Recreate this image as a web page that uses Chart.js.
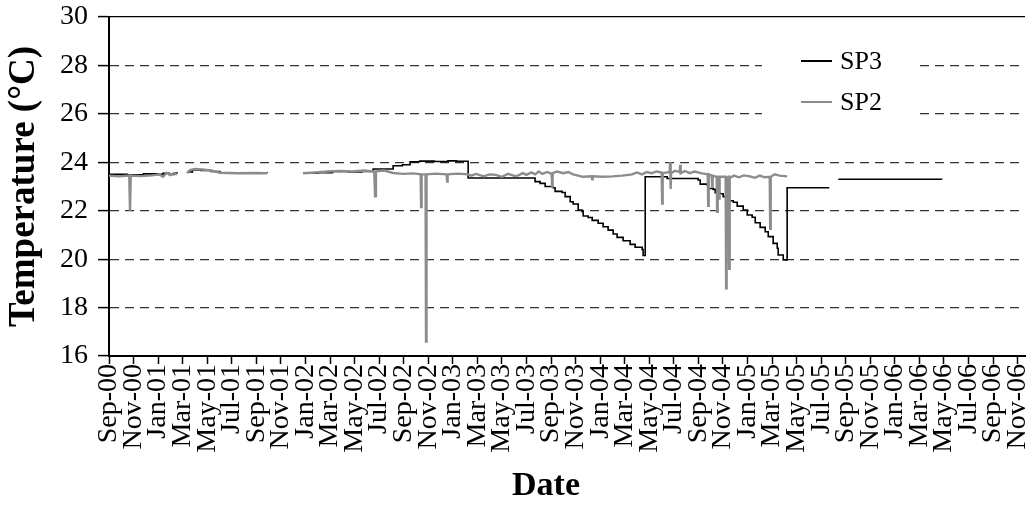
<!DOCTYPE html>
<html>
<head>
<meta charset="utf-8">
<script src="https://cdn.jsdelivr.net/npm/chart.js@4.4.0/dist/chart.umd.min.js"></script>
<style>
html, body { margin: 0; padding: 0; background: #fff; }
#wrap { width: 1030px; height: 513px; }
</style>
</head>
<body>
<div id="wrap"><canvas id="graficoTemperatura" width="1030" height="513"></canvas></div>
<script>
// meses contados a partir de Sep-00 (0 = Sep-00, 2 = Nov-00, ...)
var tickMonths = [0, 2, 4, 6, 8, 10, 12, 14, 16, 18, 20, 22, 24, 26, 28, 30, 32, 34, 36,
    38, 40, 42, 44, 46, 48, 50, 52, 54, 56, 58, 60, 62, 64, 66, 68, 70, 72, 74];
var tickLabels = ['Sep-00', 'Nov-00', 'Jan-01', 'Mar-01', 'May-01', 'Jul-01', 'Sep-01', 'Nov-01',
    'Jan-02', 'Mar-02', 'May-02', 'Jul-02', 'Sep-02', 'Nov-02', 'Jan-03', 'Mar-03', 'May-03',
    'Jul-03', 'Sep-03', 'Nov-03', 'Jan-04', 'Mar-04', 'May-04', 'Jul-04', 'Sep-04', 'Nov-04',
    'Jan-05', 'Mar-05', 'May-05', 'Jul-05', 'Sep-05', 'Nov-05', 'Jan-06', 'Mar-06', 'May-06',
    'Jul-06', 'Sep-06', 'Nov-06'];

// SP3 (linha preta, em degraus)
var sp3Months = [0, 1.5, 2.8, 3.9, 4.4, 4.9, 5.3, 5.54, 5.9,
    6.35, 6.8, 7.5, 8.3, 9.04, 11.0, 12.87, 14.3,
    15.8, 17.0, 18.2, 19.5, 20.6, 21.51, 23.14, 23.9, 24.52, 25.3, 26.5, 27.6, 28.3, 29.25,
    34.70, 35.11, 35.52, 36.17, 36.33, 36.90, 37.15, 37.56, 37.80, 38.21, 38.53, 38.62, 39.02,
    39.35, 39.84, 40.24, 40.65, 41.06, 41.38, 41.87, 42.44, 42.85, 43.42, 43.50, 43.67,
    45.46, 47.98, 48.15, 48.72, 48.80, 49.21, 49.37, 49.78, 50.02, 50.43, 50.84, 51.16, 51.65,
    51.98, 52.38, 52.63, 53.03, 53.44, 53.69, 54.09, 54.42, 54.50, 54.91, 55.23, 58.66, 59.0,
    59.39, 67.86];
var sp3Temps = [23.5, 23.48, 23.52, 23.5, 23.55, 23.5, 23.56, 23.52, null,
    23.6, 23.68, 23.66, 23.62, 23.55, 23.56, 23.55, null,
    23.55, 23.57, 23.62, 23.6, 23.62, 23.72, 23.86, 23.9, 24.02, 24.05, 24.03, 24.06, 24.04, 23.35,
    23.2, 23.13, 23.0, 22.95, 22.8, 22.75, 22.58, 22.37, 22.28, 22.03, 21.96, 21.78, 21.72,
    21.6, 21.48, 21.34, 21.2, 21.04, 20.9, 20.76, 20.61, 20.49, 20.4, 20.15, 23.4,
    23.33, 23.27, 23.1, 23.06, 22.92, 22.88, 22.74, 22.7, 22.58, 22.41, 22.35, 22.19, 22.03,
    21.82, 21.73, 21.5, 21.31, 21.13, 20.93, 20.65, 20.45, 20.17, 19.97, 22.95, 22.95, null,
    23.3, 23.3];

// SP2 (linha cinza)
var sp2Months = [0, 0.8, 1.65, 1.71, 1.77, 2.6, 3.5, 4.1, 4.4, 4.7, 5.0, 5.3, 5.54, 5.9,
    6.35, 6.6, 7.0, 7.6, 8.3, 9.04, 10.5, 11.8, 12.87, 14.3,
    15.8, 16.8, 17.8, 18.8, 19.8, 20.8, 21.6, 21.67, 21.74, 22.4, 23.14, 24.0, 24.8,
    25.38, 25.42, 25.46, 25.78, 25.82, 25.86, 26.6, 27.5, 27.54, 27.58, 28.4, 29.25,
    29.5, 29.9, 30.5, 31.0, 31.5, 32.0, 32.5, 33.0, 33.3, 33.7, 34.0, 34.4, 34.7, 35.0, 35.3, 35.7,
    36.05, 36.09, 36.13, 36.5, 37.0, 37.4, 37.8, 38.2, 38.6,
    39.31, 39.35, 39.39, 40.2, 41.0, 41.8, 42.6, 43.0, 43.4, 43.8, 44.2, 44.6, 45.01, 45.05, 45.09,
    45.66, 45.7, 45.74, 45.78, 46.1, 46.48, 46.52, 46.56, 46.9, 47.3, 47.7, 48.2, 48.76, 48.80, 48.84,
    49.08, 49.12, 49.16, 49.49, 49.53, 49.57, 49.65, 49.69, 49.73, 50.22, 50.26, 50.30,
    50.47, 50.51, 50.55, 50.9, 51.3, 51.7, 52.2, 52.6, 53.0, 53.4, 53.81, 53.85, 53.89, 54.2, 54.6, 55.23];
var sp2Temps = [23.45, 23.42, 23.45, 22.0, 23.45, 23.43, 23.46, 23.5, 23.4, 23.56, 23.47, 23.55, 23.5, null,
    23.55, 23.68, 23.72, 23.7, 23.66, 23.57, 23.55, 23.56, 23.55, null,
    23.55, 23.58, 23.62, 23.64, 23.62, 23.66, 23.62, 22.6, 23.63, 23.66, 23.56, 23.52, 23.54,
    23.5, 22.15, 23.5, 23.5, 16.6, 23.5, 23.53, 23.5, 23.2, 23.5, 23.53, 23.5,
    23.45, 23.52, 23.42, 23.5, 23.48, 23.4, 23.52, 23.44, 23.45, 23.55, 23.48, 23.58, 23.5, 23.62, 23.52, 23.6,
    23.52, 23.0, 23.55, 23.62, 23.55, 23.6, 23.5, 23.45, 23.4,
    23.42, 23.3, 23.42, 23.4, 23.42, 23.45, 23.5, 23.58, 23.5, 23.6, 23.55, 23.62, 23.58, 22.3, 23.55,
    23.6, 24.0, 22.9, 23.55, 23.65, 23.6, 23.9, 23.55, 23.64, 23.55, 23.62, 23.55, 23.5, 22.2, 23.5,
    23.45, 23.0, 23.45, 23.4, 21.96, 23.4, 23.4, 22.5, 23.4, 23.4, 18.8, 23.35,
    23.4, 19.6, 23.35, 23.45, 23.38, 23.46, 23.42, 23.36, 23.45, 23.38, 23.4, 21.25, 23.4, 23.5, 23.45, 23.42];

var tituloX = 'Date';

function pares(xs, ys) {
    return xs.map(function (x, i) { return { x: x, y: ys[i] }; });
}

var fonte = '"Liberation Serif", "Times New Roman", serif';

// legenda dentro da área do gráfico (fundo branco) e título do eixo X
var legendaInterna = {
    id: 'legendaInterna',
    afterDatasetsDraw: function (chart) {
        var c = chart.ctx;
        var a = chart.chartArea;
        var x0 = a.left + 653, y0 = a.top + 28;
        c.save();
        c.fillStyle = '#fff';
        c.fillRect(x0, y0, 153, 75);
        c.font = '26px ' + fonte;
        c.textBaseline = 'middle';
        chart.data.datasets.forEach(function (ds, i) {
            var y = y0 + 16 + i * 41;
            c.strokeStyle = ds.borderColor;
            c.lineWidth = 2;
            c.beginPath();
            c.moveTo(x0 + 39, y);
            c.lineTo(x0 + 70, y);
            c.stroke();
            c.fillStyle = '#000';
            c.fillText(ds.label, x0 + 78, y + 1);
        });
        // título do eixo X
        c.font = 'bold 34px ' + fonte;
        c.textAlign = 'center';
        c.textBaseline = 'middle';
        c.fillText(tituloX, 546, 486);
        c.restore();
    }
};

var ctx = document.getElementById('graficoTemperatura').getContext('2d');
var grafico = new Chart(ctx, {
    type: 'line',
    data: {
        datasets: [{
            label: 'SP3',
            data: pares(sp3Months, sp3Temps),
            borderColor: '#000000',
            borderWidth: 1.6,
            stepped: true,
            pointRadius: 0,
            spanGaps: false,
            order: 2
        }, {
            label: 'SP2',
            data: pares(sp2Months, sp2Temps),
            borderColor: '#8c8c8c',
            borderWidth: 2.4,
            pointRadius: 0,
            spanGaps: false,
            order: 1
        }]
    },
    options: {
        responsive: false,
        animation: false,
        layout: { padding: { top: 17, right: 5, left: 0, bottom: 0 } },
        plugins: {
            legend: { display: false },
            tooltip: { enabled: false }
        },
        scales: {
            x: {
                type: 'linear',
                min: 0,
                max: 74.6,
                afterBuildTicks: function (scale) {
                    scale.ticks = tickMonths.map(function (v) { return { value: v }; });
                },
                afterFit: function (scale) {
                    scale.height = 157;
                    scale.paddingLeft = 0;
                    scale.paddingRight = 0;
                },
                ticks: {
                    autoSkip: false,
                    maxRotation: 90,
                    minRotation: 90,
                    padding: 0,
                    color: '#000',
                    font: { family: fonte, size: 28 },
                    callback: function (value) {
                        return tickLabels[tickMonths.indexOf(value)];
                    }
                },
                grid: {
                    drawOnChartArea: false,
                    drawTicks: true,
                    tickLength: 8,
                    tickColor: '#000',
                    tickWidth: 1.5
                },
                border: { display: true, color: '#000', width: 2 },
                title: { display: false }
            },
            y: {
                min: 16,
                max: 30,
                afterFit: function (scale) {
                    scale.width = 109;
                    scale.paddingTop = 0;
                    scale.paddingBottom = 0;
                },
                ticks: {
                    stepSize: 2,
                    padding: 10,
                    color: '#000',
                    font: { family: fonte, size: 28 }
                },
                grid: {
                    color: function (c) { return c.tick && c.tick.value === 30 ? '#000' : '#333'; },
                    lineWidth: 1.2,
                    tickLength: 11,
                    tickColor: '#000',
                    tickWidth: 1.5,
                    tickBorderDash: []
                },
                border: {
                    display: true,
                    color: '#000',
                    width: 2,
                    dash: function (c) { return c.tick && c.tick.value === 30 ? [] : [9, 6]; }
                },
                title: {
                    display: true,
                    text: 'Temperature (°C)',
                    color: '#000',
                    font: { family: fonte, size: 37, weight: 'bold' },
                    padding: { top: 2, bottom: 0 }
                }
            }
        }
    },
    plugins: [legendaInterna]
});
</script>
</body>
</html>
